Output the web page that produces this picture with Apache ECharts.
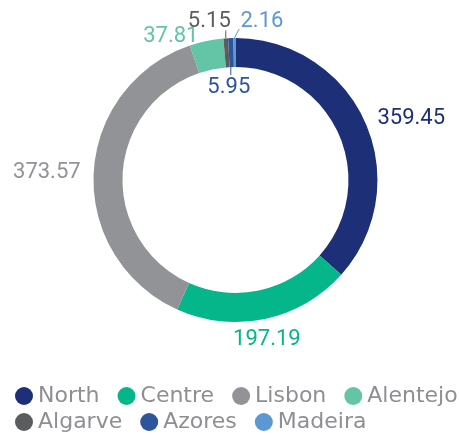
<!DOCTYPE html>
<html>
<head>
<meta charset="utf-8">
<script src="https://cdn.jsdelivr.net/npm/echarts@6/dist/echarts.min.js"></script>
<style>
	html, body { margin: 0; padding: 0; background: #fff; }
	#chart { width: 459px; height: 435px; }
</style>
</head>
<body>
<div id="chart"></div>
<script>
var regions = ['North', 'Centre', 'Lisbon', 'Alentejo', 'Algarve', 'Azores', 'Madeira'];
var values = [359.45, 197.19, 373.57, 37.81, 5.15, 5.95, 2.16];
var colors = ['#1d2f77', '#06b68b', '#929396', '#63c4a6', '#5a5c5e', '#2e549b', '#5d97d4'];

var innerR = 113;
var outerR = 142;
var numFont = 'Roboto';
var legendFont = 'DejaVu Sans';

// small slices get a short leader line
var smallOnes = ['Algarve', 'Azores', 'Madeira'];

function buildData() {
	let data = [];
	for (let i = 0; i < regions.length; i++) {
		let small = smallOnes.indexOf(regions[i]) >= 0;
		data.push({
			name: regions[i],
			value: values[i],
			itemStyle: { color: colors[i] },
			label: { color: colors[i] },
			labelLine: {
				show: small,
				lineStyle: { color: colors[i], width: 1 }
			}
		});
	}
	return data;
}

function placeLabel(params) {
	let name = regions[params.dataIndex];
	let p = params.labelLinePoints;
	if (name == 'Centre') {
		return { x: p[0][0] + 2, y: p[0][1] + 10, align: 'center', verticalAlign: 'top' };
	}
	if (name == 'Alentejo') {
		return { x: p[0][0] - 8, y: p[0][1] - 5, align: 'right', verticalAlign: 'middle' };
	}
	if (name == 'Algarve') {
		let x0 = p[0][0], y0 = p[0][1];
		return {
			x: x0 + 5,
			y: y0 - 6,
			align: 'right',
			verticalAlign: 'bottom',
			labelLinePoints: [[x0, y0], [x0, y0 - 7], [x0, y0 - 8]]
		};
	}
	if (name == 'Madeira') {
		let x0 = p[0][0], y0 = p[0][1];
		return {
			x: x0 + 6,
			y: y0 - 6,
			align: 'left',
			verticalAlign: 'bottom',
			labelLinePoints: [[x0, y0], [x0 + 4, y0 - 8], [x0 + 5, y0 - 9]]
		};
	}
	if (name == 'Azores') {
		let thick = outerR - innerR;
		let x0 = p[0][0], y0 = p[0][1] + thick;
		return {
			x: x0 - 2,
			y: y0 + 9,
			align: 'center',
			verticalAlign: 'top',
			labelLinePoints: [[x0, y0], [x0, y0 + 7], [x0, y0 + 8]]
		};
	}
	return {};
}

var chart = echarts.init(document.getElementById('chart'));
chart.setOption({
	animation: false,
	legend: {
		data: regions,
		left: 10,
		top: 380,
		width: 475,
		icon: 'circle',
		itemWidth: 18,
		itemHeight: 18,
		itemGap: 4,
		textStyle: {
			fontFamily: legendFont,
			fontSize: 22,
			lineHeight: 22,
			color: '#8e8f93',
			padding: [0, 14, 0, 0]
		}
	},
	series: [{
		type: 'pie',
		center: ['51.3%', 180],
		radius: [innerR, outerR],
		startAngle: 90,
		clockwise: true,
		avoidLabelOverlap: false,
		label: {
			show: true,
			position: 'outside',
			fontFamily: numFont,
			fontSize: 22,
			formatter: '{c}'
		},
		labelLine: {
			length: 8,
			length2: 0
		},
		labelLayout: placeLabel,
		emphasis: { disabled: true },
		data: buildData()
	}]
});
</script>
</body>
</html>
